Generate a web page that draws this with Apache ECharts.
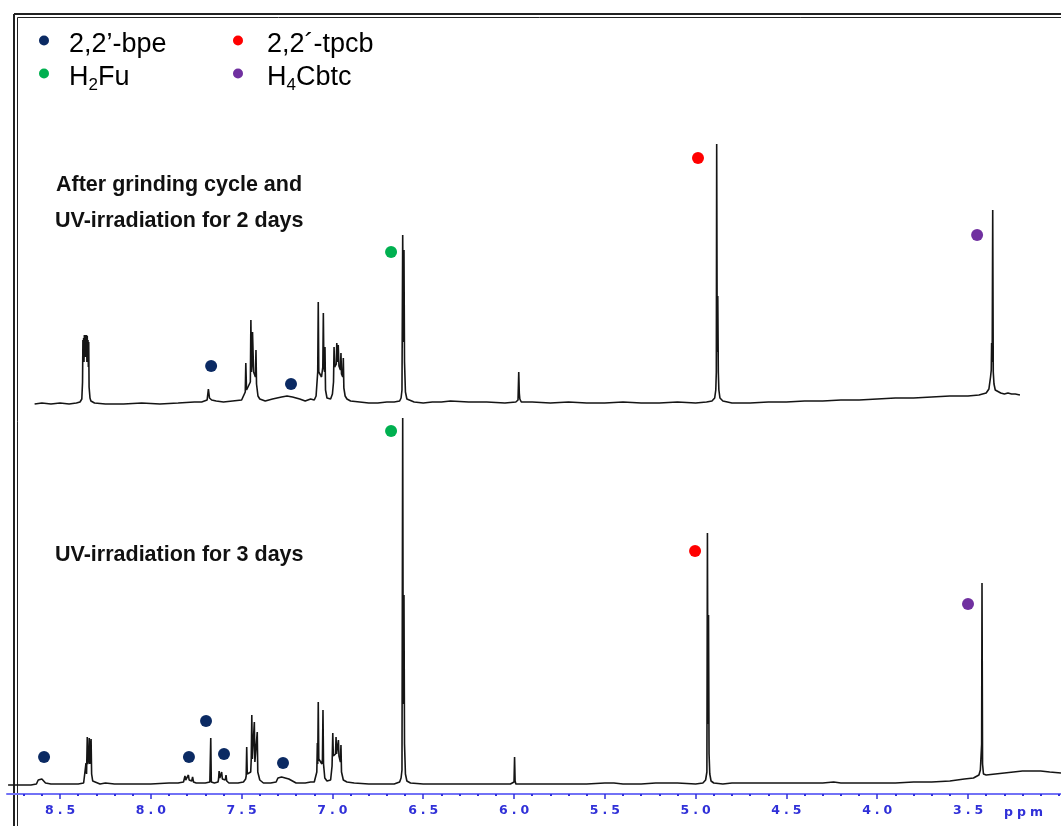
<!DOCTYPE html>
<html>
<head>
<meta charset="utf-8">
<script src="https://cdn.jsdelivr.net/npm/echarts@6/dist/echarts.min.js"></script>
<style>
html,body{margin:0;padding:0;background:#fff;}
#chart{width:1061px;height:826px;}
</style>
</head>
<body>
<div id="chart"></div>
<script>
// ---------- data (ppm, intensity) ----------
const xRange = [2.988, 8.792];
const majorTicks = [8.5, 8.0, 7.5, 7.0, 6.5, 6.0, 5.5, 5.0, 4.5, 4.0, 3.5];
const minorTicks = [8.7, 8.6, 8.4, 8.3, 8.2, 8.1, 7.9, 7.8, 7.7, 7.6, 7.4, 7.3, 7.2, 7.1,
  6.9, 6.8, 6.7, 6.6, 6.4, 6.3, 6.2, 6.1, 5.9, 5.8, 5.7, 5.6, 5.4, 5.3, 5.2, 5.1,
  4.9, 4.8, 4.7, 4.6, 4.4, 4.3, 4.2, 4.1, 3.9, 3.8, 3.7, 3.6, 3.4, 3.3, 3.2, 3.1, 3.0];

// upper trace: after grinding cycle and UV-irradiation for 2 days
const upperTrace = [
  [8.64,-2],[8.60,-1],[8.55,-2],[8.50,-1],[8.45,-2],[8.41,-1],[8.39,0],[8.38,3],
  [8.376,20],[8.374,62],[8.372,40],[8.370,64],[8.368,40],[8.366,67],[8.364,45],[8.362,67],
  [8.360,45],[8.358,67],[8.356,45],[8.354,67],[8.352,40],[8.350,66],[8.348,40],[8.346,62],
  [8.344,35],[8.342,60],[8.340,15],[8.335,4],[8.33,1],[8.31,-1],[8.25,-2],[8.15,-2],
  [8.05,-1],[7.95,-2],[7.85,-1],[7.76,0],[7.72,0],[7.69,2],[7.683,13],[7.677,4],
  [7.665,2],[7.655,3],[7.64,1],[7.60,0],[7.55,1],[7.50,2],[7.49,4],[7.480,10],
  [7.477,39],[7.473,12],[7.465,15],[7.452,20],[7.449,82],[7.446,30],[7.442,40],[7.440,70],
  [7.437,69],[7.434,30],[7.424,25],[7.421,52],[7.418,18],[7.41,6],[7.40,3],[7.37,1],[7.33,3],
  [7.28,5],[7.25,6],[7.22,5],[7.18,3],[7.15,1],[7.12,3],[7.10,2],[7.09,6],
  [7.081,30],[7.078,100],[7.075,30],[7.060,25],[7.053,35],[7.050,89],[7.047,35],[7.043,30],
  [7.041,55],[7.038,12],[7.03,4],[7.02,2],[7.01,3],[7.0,8],[6.994,20],[6.991,55],
  [6.988,35],[6.979,38],[6.976,59],[6.972,40],[6.968,57],[6.964,36],[6.956,32],[6.953,49],
  [6.950,28],[6.943,25],[6.940,44],[6.937,14],[6.93,6],[6.92,3],[6.90,1],[6.85,0],
  [6.80,-1],[6.75,-1],[6.70,0],[6.66,0],[6.63,1],[6.622,4],[6.617,12],[6.613,167],
  [6.610,60],[6.606,152],[6.603,40],[6.598,10],[6.59,3],[6.58,1],[6.55,0],[6.50,-1],
  [6.45,0],[6.40,0],[6.35,1],[6.25,0],[6.15,0],[6.05,-1],[5.99,0],[5.978,2],
  [5.974,30],[5.971,9],[5.968,3],[5.96,0],[5.90,0],[5.80,-1],[5.70,0],[5.60,-1],
  [5.50,-1],[5.40,0],[5.30,-1],[5.20,-1],[5.10,0],[5.00,-1],[4.94,0],[4.91,1],
  [4.895,4],[4.889,12],[4.886,30],[4.884,258],[4.881,50],[4.878,106],[4.875,30],[4.872,12],
  [4.866,4],[4.85,1],[4.80,-1],[4.75,-1],[4.70,-1],[4.60,0],[4.50,0],[4.40,1],
  [4.30,1],[4.20,2],[4.10,2],[4.00,3],[3.90,4],[3.80,4],[3.70,5],[3.60,6],
  [3.50,6],[3.44,7],[3.40,9],[3.385,13],[3.376,25],[3.372,32],[3.370,59],[3.367,40],
  [3.364,192],[3.361,30],[3.357,18],[3.35,12],[3.34,10],[3.32,9],[3.30,8],[3.28,9],
  [3.26,8],[3.24,8],[3.214,7]
];

// lower trace: UV-irradiation for 3 days
const lowerTrace = [
  [8.786,-1],[8.74,-1],[8.70,-1],[8.66,-1],[8.63,0],[8.62,4],[8.61,5],[8.60,5],
  [8.59,4],[8.58,1],[8.55,0],[8.50,0],[8.45,0],[8.40,0],[8.37,1],[8.36,3],
  [8.357,21],[8.354,10],[8.350,47],[8.347,20],[8.342,25],[8.339,46],[8.336,20],[8.332,22],
  [8.329,45],[8.326,10],[8.32,3],[8.31,1],[8.28,0],[8.25,1],[8.2,0],[8.1,0],
  [8.0,0],[7.9,1],[7.85,1],[7.82,2],[7.815,4],[7.812,8],[7.808,4],[7.797,5],
  [7.793,9],[7.789,4],[7.775,3],[7.770,7],[7.765,2],[7.75,1],[7.70,1],[7.675,2],
  [7.670,46],[7.667,2],[7.65,1],[7.63,2],[7.627,5],[7.624,13],[7.620,6],[7.613,5],
  [7.610,12],[7.606,5],[7.590,4],[7.586,9],[7.582,3],[7.57,1],[7.52,1],[7.49,2],
  [7.478,5],[7.475,8],[7.472,37],[7.469,10],[7.450,12],[7.447,25],[7.444,69],[7.441,25],
  [7.433,24],[7.430,62],[7.427,22],[7.417,20],[7.414,52],[7.411,12],[7.40,4],[7.38,1],
  [7.34,1],[7.31,2],[7.30,6],[7.28,7],[7.26,6],[7.24,5],[7.22,3],[7.20,1],
  [7.15,1],[7.12,2],[7.10,2],[7.09,4],[7.086,12],[7.083,41],[7.081,20],[7.078,82],
  [7.075,25],[7.058,20],[7.055,25],[7.052,74],[7.049,20],[7.042,6],[7.03,3],[7.01,4],
  [7.002,18],[6.998,51],[6.995,28],[6.983,30],[6.980,47],[6.977,30],[6.970,30],[6.967,44],
  [6.964,28],[6.956,22],[6.953,39],[6.950,12],[6.94,4],[6.92,2],[6.88,1],[6.80,0],
  [6.72,0],[6.66,0],[6.63,2],[6.622,6],[6.617,14],[6.613,366],[6.610,80],[6.606,189],
  [6.603,40],[6.598,10],[6.59,3],[6.57,1],[6.50,0],[6.40,0],[6.30,0],[6.20,0],
  [6.10,0],[6.02,0],[6.00,2],[5.997,27],[5.994,3],[5.99,0],[5.90,0],[5.80,0],
  [5.70,0],[5.60,0],[5.50,1],[5.45,1],[5.40,0],[5.30,0],[5.22,1],[5.15,1],
  [5.10,1],[5.00,0],[4.96,1],[4.945,4],[4.938,12],[4.935,251],[4.932,60],[4.929,169],
  [4.926,30],[4.922,10],[4.915,3],[4.90,1],[4.85,0],[4.80,1],[4.70,1],[4.60,1],
  [4.50,1],[4.40,1],[4.30,1],[4.24,2],[4.20,1],[4.10,1],[4.00,1],[3.90,1],
  [3.80,2],[3.70,2],[3.60,3],[3.52,5],[3.47,6],[3.44,9],[3.432,14],[3.427,15],
  [3.425,40],[3.423,201],[3.420,20],[3.415,10],[3.40,9],[3.35,10],[3.30,11],[3.25,12],
  [3.20,13],[3.15,13],[3.10,13],[3.05,12],[2.988,11]
];

// peak assignment markers (ppm, intensity)
const bpeUpper  = [[7.668,36],[7.228,18]];
const bpeLower  = [[8.588,27],[7.790,27],[7.696,63],[7.597,30],[7.272,21]];
const tpcbUpper = [[4.987,244]];
const tpcbLower = [[5.003,233]];
const fuUpper   = [[6.677,150]];
const fuLower   = [[6.677,353]];
const cbtcUpper = [[3.450,167]];
const cbtcLower = [[3.500,180]];

const compoundNames = ['2,2’-bpe', '2,2´-tpcb', 'H2Fu', 'H4Cbtc'];
const compoundColors = ['#0b2a63', '#ff0000', '#00b050', '#7030a0'];
const annotations = ['After grinding cycle and', 'UV-irradiation for 2 days', 'UV-irradiation for 3 days'];

// ---------- chart ----------
const chart = echarts.init(document.getElementById('chart'), null, {renderer: 'canvas'});
const AX = '#3030d8';
const FONT = '"Liberation Sans", Arial, sans-serif';
const spaced = s => s.split('').map(c => '{c|' + c + '}').join('');
const legendFmt = name => {
  if (name === 'H2Fu') return '{m|H}{s|2}{m|Fu}';
  if (name === 'H4Cbtc') return '{m|H}{s|4}{m|Cbtc}';
  return '{m|' + name + '}';
};
const legendRich = {
  m: {fontSize: 27, lineHeight: 26, fontFamily: FONT, color: '#000'},
  s: {fontSize: 17, lineHeight: 17, padding: [16, 0, 0, 0], fontFamily: FONT, color: '#000'}
};
function scatter(name, idx, data, color) {
  return {
    name: name, type: 'scatter', xAxisIndex: idx === 0 ? 0 : 1, yAxisIndex: idx,
    data: data, symbol: 'circle', symbolSize: 12,
    itemStyle: {color: color, opacity: 1}, z: 5
  };
}
const lineStyle = {color: '#151515', width: 1.6};

const option = {
  animation: false,
  backgroundColor: '#ffffff',
  grid: [
    {left: 7, right: 0, top: 130, bottom: 414},
    {left: 7, right: 0, top: 400, bottom: 32}
  ],
  xAxis: [
    {type: 'value', gridIndex: 0, min: xRange[0], max: xRange[1], inverse: true, show: false},
    {type: 'value', gridIndex: 1, min: xRange[0], max: xRange[1], inverse: true, position: 'bottom',
      axisLine: {show: true, onZero: false, lineStyle: {color: '#7272f6', width: 2}},
      axisTick: {show: true, customValues: majorTicks, length: 5, lineStyle: {color: AX, width: 1.5}},
      axisLabel: {show: true, customValues: majorTicks, margin: 10,
        formatter: v => spaced(v.toFixed(1)),
        rich: {c: {fontFamily: '"DejaVu Sans", sans-serif', fontWeight: 'bold', fontSize: 12.5, lineHeight: 14, color: AX, padding: [0, 2, 0, 2]}}},
      splitLine: {show: false}},
    {type: 'value', gridIndex: 1, min: xRange[0], max: xRange[1], inverse: true, position: 'bottom', offset: 0,
      axisLine: {show: false, onZero: false},
      axisTick: {show: true, customValues: minorTicks, length: 2, lineStyle: {color: AX, width: 2}},
      axisLabel: {show: false}, splitLine: {show: false}}
  ],
  yAxis: [
    {type: 'value', gridIndex: 0, min: -10, max: 272, show: false},
    {type: 'value', gridIndex: 1, min: -10, max: 384, show: false}
  ],
  legend: [
    {orient: 'vertical', left: 39, top: 31, padding: 0, itemGap: 3, itemWidth: 12, itemHeight: 10,
      icon: 'circle', data: [compoundNames[0], compoundNames[2]], selectedMode: false,
      formatter: legendFmt, textStyle: {padding: [8, 0, 0, 14], rich: legendRich}},
    {orient: 'vertical', left: 233, top: 31, padding: 0, itemGap: 3, itemWidth: 12, itemHeight: 10,
      icon: 'circle', data: [compoundNames[1], compoundNames[3]], selectedMode: false,
      formatter: legendFmt, textStyle: {padding: [8, 0, 0, 18], rich: legendRich}}
  ],
  series: [
    {name: 'upper', type: 'line', xAxisIndex: 0, yAxisIndex: 0, data: upperTrace, symbol: 'none', lineStyle: lineStyle, silent: true},
    {name: 'lower', type: 'line', xAxisIndex: 1, yAxisIndex: 1, data: lowerTrace, symbol: 'none', lineStyle: lineStyle, silent: true},
    scatter(compoundNames[0], 0, bpeUpper, compoundColors[0]),
    scatter(compoundNames[0], 1, bpeLower, compoundColors[0]),
    scatter(compoundNames[1], 0, tpcbUpper, compoundColors[1]),
    scatter(compoundNames[1], 1, tpcbLower, compoundColors[1]),
    scatter(compoundNames[2], 0, fuUpper, compoundColors[2]),
    scatter(compoundNames[2], 1, fuLower, compoundColors[2]),
    scatter(compoundNames[3], 0, cbtcUpper, compoundColors[3]),
    scatter(compoundNames[3], 1, cbtcLower, compoundColors[3])
  ],
  graphic: [
    {type: 'line', shape: {x1: 14, y1: 14, x2: 1061, y2: 14}, style: {stroke: '#222', lineWidth: 2}},
    {type: 'line', shape: {x1: 17.5, y1: 17.5, x2: 1061, y2: 17.5}, style: {stroke: '#222', lineWidth: 1}},
    {type: 'line', shape: {x1: 14, y1: 14, x2: 14, y2: 826}, style: {stroke: '#222', lineWidth: 2}},
    {type: 'line', shape: {x1: 17.5, y1: 17.5, x2: 17.5, y2: 826}, style: {stroke: '#222', lineWidth: 1}},
    {type: 'text', x: 56, y: 185, style: {text: annotations[0], fontFamily: FONT, fontWeight: 'bold', fontSize: 21.5, fill: '#111', verticalAlign: 'middle'}},
    {type: 'text', x: 55, y: 221, style: {text: annotations[1], fontFamily: FONT, fontWeight: 'bold', fontSize: 21.5, fill: '#111', verticalAlign: 'middle'}},
    {type: 'text', x: 55, y: 555, style: {text: annotations[2], fontFamily: FONT, fontWeight: 'bold', fontSize: 21.5, fill: '#111', verticalAlign: 'middle'}},
    {type: 'text', x: 1002, y: 813, style: {text: spaced('ppm'), verticalAlign: 'middle',
      rich: {c: {fontFamily: '"DejaVu Sans", sans-serif', fontWeight: 'bold', fontSize: 12.5, lineHeight: 14, fill: AX, padding: [0, 2, 0, 2]}}}}
  ]
};
chart.setOption(option);
</script>
</body>
</html>
